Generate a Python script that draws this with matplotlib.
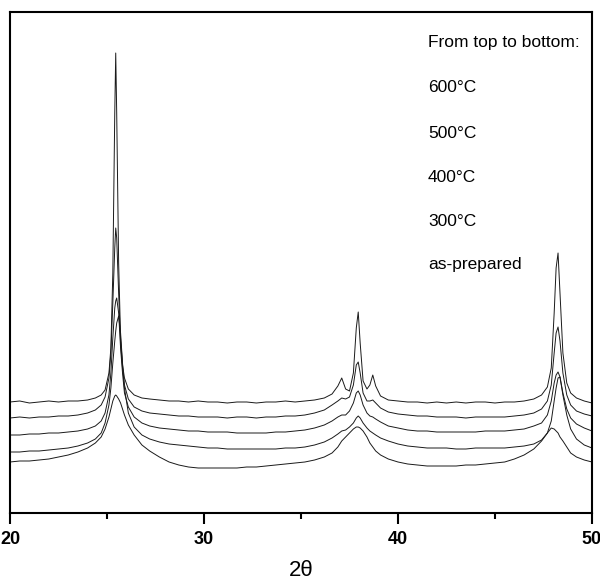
import numpy as np
import matplotlib
matplotlib.use("Agg")
import matplotlib.pyplot as plt

# 2-theta grid shared by all patterns (denser around the reflections)
two_theta = [
    20.0, 20.5, 21.0, 21.5, 22.0, 22.5, 23.0, 23.5,
    24.0, 24.4, 24.7, 24.9, 25.1, 25.2, 25.3, 25.4,
    25.45, 25.5, 25.6, 25.7, 25.8, 25.9, 26.1, 26.4,
    26.8, 27.2, 27.7, 28.2, 28.7, 29.2, 29.7, 30.2,
    30.7, 31.2, 31.7, 32.2, 32.7, 33.2, 33.7, 34.2,
    34.7, 35.2, 35.7, 36.2, 36.6, 36.9, 37.1, 37.3,
    37.5, 37.7, 37.85, 37.95, 38.05, 38.2, 38.4, 38.55,
    38.7, 38.85, 39.1, 39.5, 40.0, 40.5, 41.0, 41.5,
    42.0, 42.5, 43.0, 43.5, 44.0, 44.5, 45.0, 45.5,
    46.0, 46.5, 47.0, 47.4, 47.7, 47.9, 48.05, 48.15,
    48.25, 48.35, 48.5, 48.7, 48.9, 49.2, 49.6, 50.0,
]

# intensities (arb. units, already stacked with offsets as in the figure)
i_600 = [
    111, 112, 110, 111, 112, 111, 112, 112,
    113, 115, 118, 123, 140, 165, 240, 400,
    460, 400, 250, 175, 148, 135, 124, 118,
    115, 114, 113, 112, 112, 111, 112, 111,
    111, 110, 111, 111, 110, 111, 111, 112,
    111, 112, 113, 115, 119, 127, 135, 124,
    122, 140, 185, 201, 170, 132, 124, 128,
    138, 127, 117, 113, 112, 111, 111, 110,
    111, 110, 111, 110, 111, 111, 110, 111,
    111, 112, 114, 118, 126, 145, 200, 245,
    260, 220, 160, 130, 120, 115, 112, 110,
]
i_500 = [
    95, 96, 95, 96, 96, 97, 97, 98,
    100, 103, 108, 116, 135, 160, 210, 265,
    285, 275, 220, 170, 145, 128, 114, 106,
    102, 100, 99, 98, 97, 97, 96, 96,
    96, 95, 96, 96, 95, 96, 96, 97,
    97, 98, 100, 103, 108, 112, 115, 114,
    116, 128, 148, 151, 140, 120, 112, 112,
    113, 110, 105, 101, 99, 98, 97, 97,
    96, 96, 96, 95, 96, 96, 96, 96,
    97, 98, 100, 104, 112, 128, 160, 180,
    186, 172, 140, 118, 108, 102, 99, 97,
]
i_400 = [
    78, 78, 79, 79, 80, 80, 81, 82,
    84, 87, 92, 100, 118, 140, 175, 205,
    212, 215, 200, 165, 140, 120, 106, 96,
    90, 87, 85, 84, 83, 82, 82, 81,
    81, 81, 80, 80, 80, 80, 81, 81,
    82, 83, 85, 88, 92, 96, 98, 98,
    102, 110, 120, 122, 118, 108, 100, 97,
    96, 94, 91, 87, 85, 83, 82, 82,
    81, 81, 81, 81, 81, 82, 82, 82,
    83, 84, 87, 90, 98, 112, 130, 138,
    141, 136, 120, 104, 95, 89, 85, 82,
]
i_300 = [
    61, 61, 62, 62, 63, 64, 65, 67,
    70, 74, 80, 90, 108, 125, 150, 172,
    182, 190, 197, 180, 150, 125, 100, 86,
    78, 74, 71, 69, 68, 67, 66, 65,
    65, 64, 64, 64, 64, 64, 64, 65,
    65, 66, 68, 71, 75, 79, 82, 83,
    86, 90, 95, 97, 95, 90, 85, 82,
    80, 78, 75, 72, 69, 67, 66, 65,
    65, 65, 64, 64, 65, 65, 65, 65,
    66, 67, 69, 73, 80, 92, 112, 125,
    135, 136, 118, 98, 84, 74, 68, 65,
]
i_asprep = [
    51, 52, 52, 53, 54, 56, 58, 61,
    65, 70, 76, 84, 96, 104, 112, 117,
    118, 117, 114, 110, 104, 98, 88, 78,
    68, 62, 56, 51, 48, 46, 45, 45,
    45, 45, 45, 46, 46, 47, 48, 49,
    50, 51, 53, 56, 60, 66, 72, 76,
    80, 84, 86, 86, 85, 82, 76, 70,
    66, 62, 58, 54, 51, 49, 48, 47,
    47, 47, 47, 48, 48, 49, 50, 51,
    54, 58, 64, 72, 80, 85, 84, 82,
    80, 76, 72, 66, 60, 56, 53, 51,
]

tick_vals = [20, 30, 40, 50]
legend_lines = ["From top to bottom:", "600°C", "500°C", "400°C", "300°C", "as-prepared"]

fig = plt.figure(figsize=(6.0, 5.84), dpi=100)
ax = fig.add_axes([10/600, (584-513)/584, 582/600, 501/584])

for y in [i_600, i_500, i_400, i_300, i_asprep]:
    ax.plot(two_theta, y, color="#1a1a1a", linewidth=0.7)

ax.set_xlim(20, 50)
ax.set_ylim(0, 501)
ax.set_yticks([])
ax.set_xticks(tick_vals)
ax.set_xticks([25, 35, 45], minor=True)
ax.tick_params(axis="x", which="major", direction="out", length=8, width=1.5,
               pad=5, labelsize=13)
ax.tick_params(axis="x", which="minor", direction="out", length=4.5, width=1.5)
ax.set_xticklabels([str(v) for v in tick_vals], fontweight="bold", fontsize=13,
                   family=["Liberation Sans", "DejaVu Sans"])
for sp in ax.spines.values():
    sp.set_linewidth(1.5)

ax.set_xlabel("2θ", fontsize=16, family=["Liberation Sans", "DejaVu Sans"])
ax.xaxis.set_label_coords(0.5, (513-571)/501)
ax.xaxis.label.set_va("center")

# legend-like text block
ys = [43, 87, 133, 178, 222, 264]
for txt, yp in zip(legend_lines, ys):
    ax.text((428-10)/582, (513-yp)/501, txt, transform=ax.transAxes,
            fontsize=12.5, va="center", ha="left",
            family=["Liberation Sans", "DejaVu Sans"])

fig.savefig("out.png", dpi=100)
